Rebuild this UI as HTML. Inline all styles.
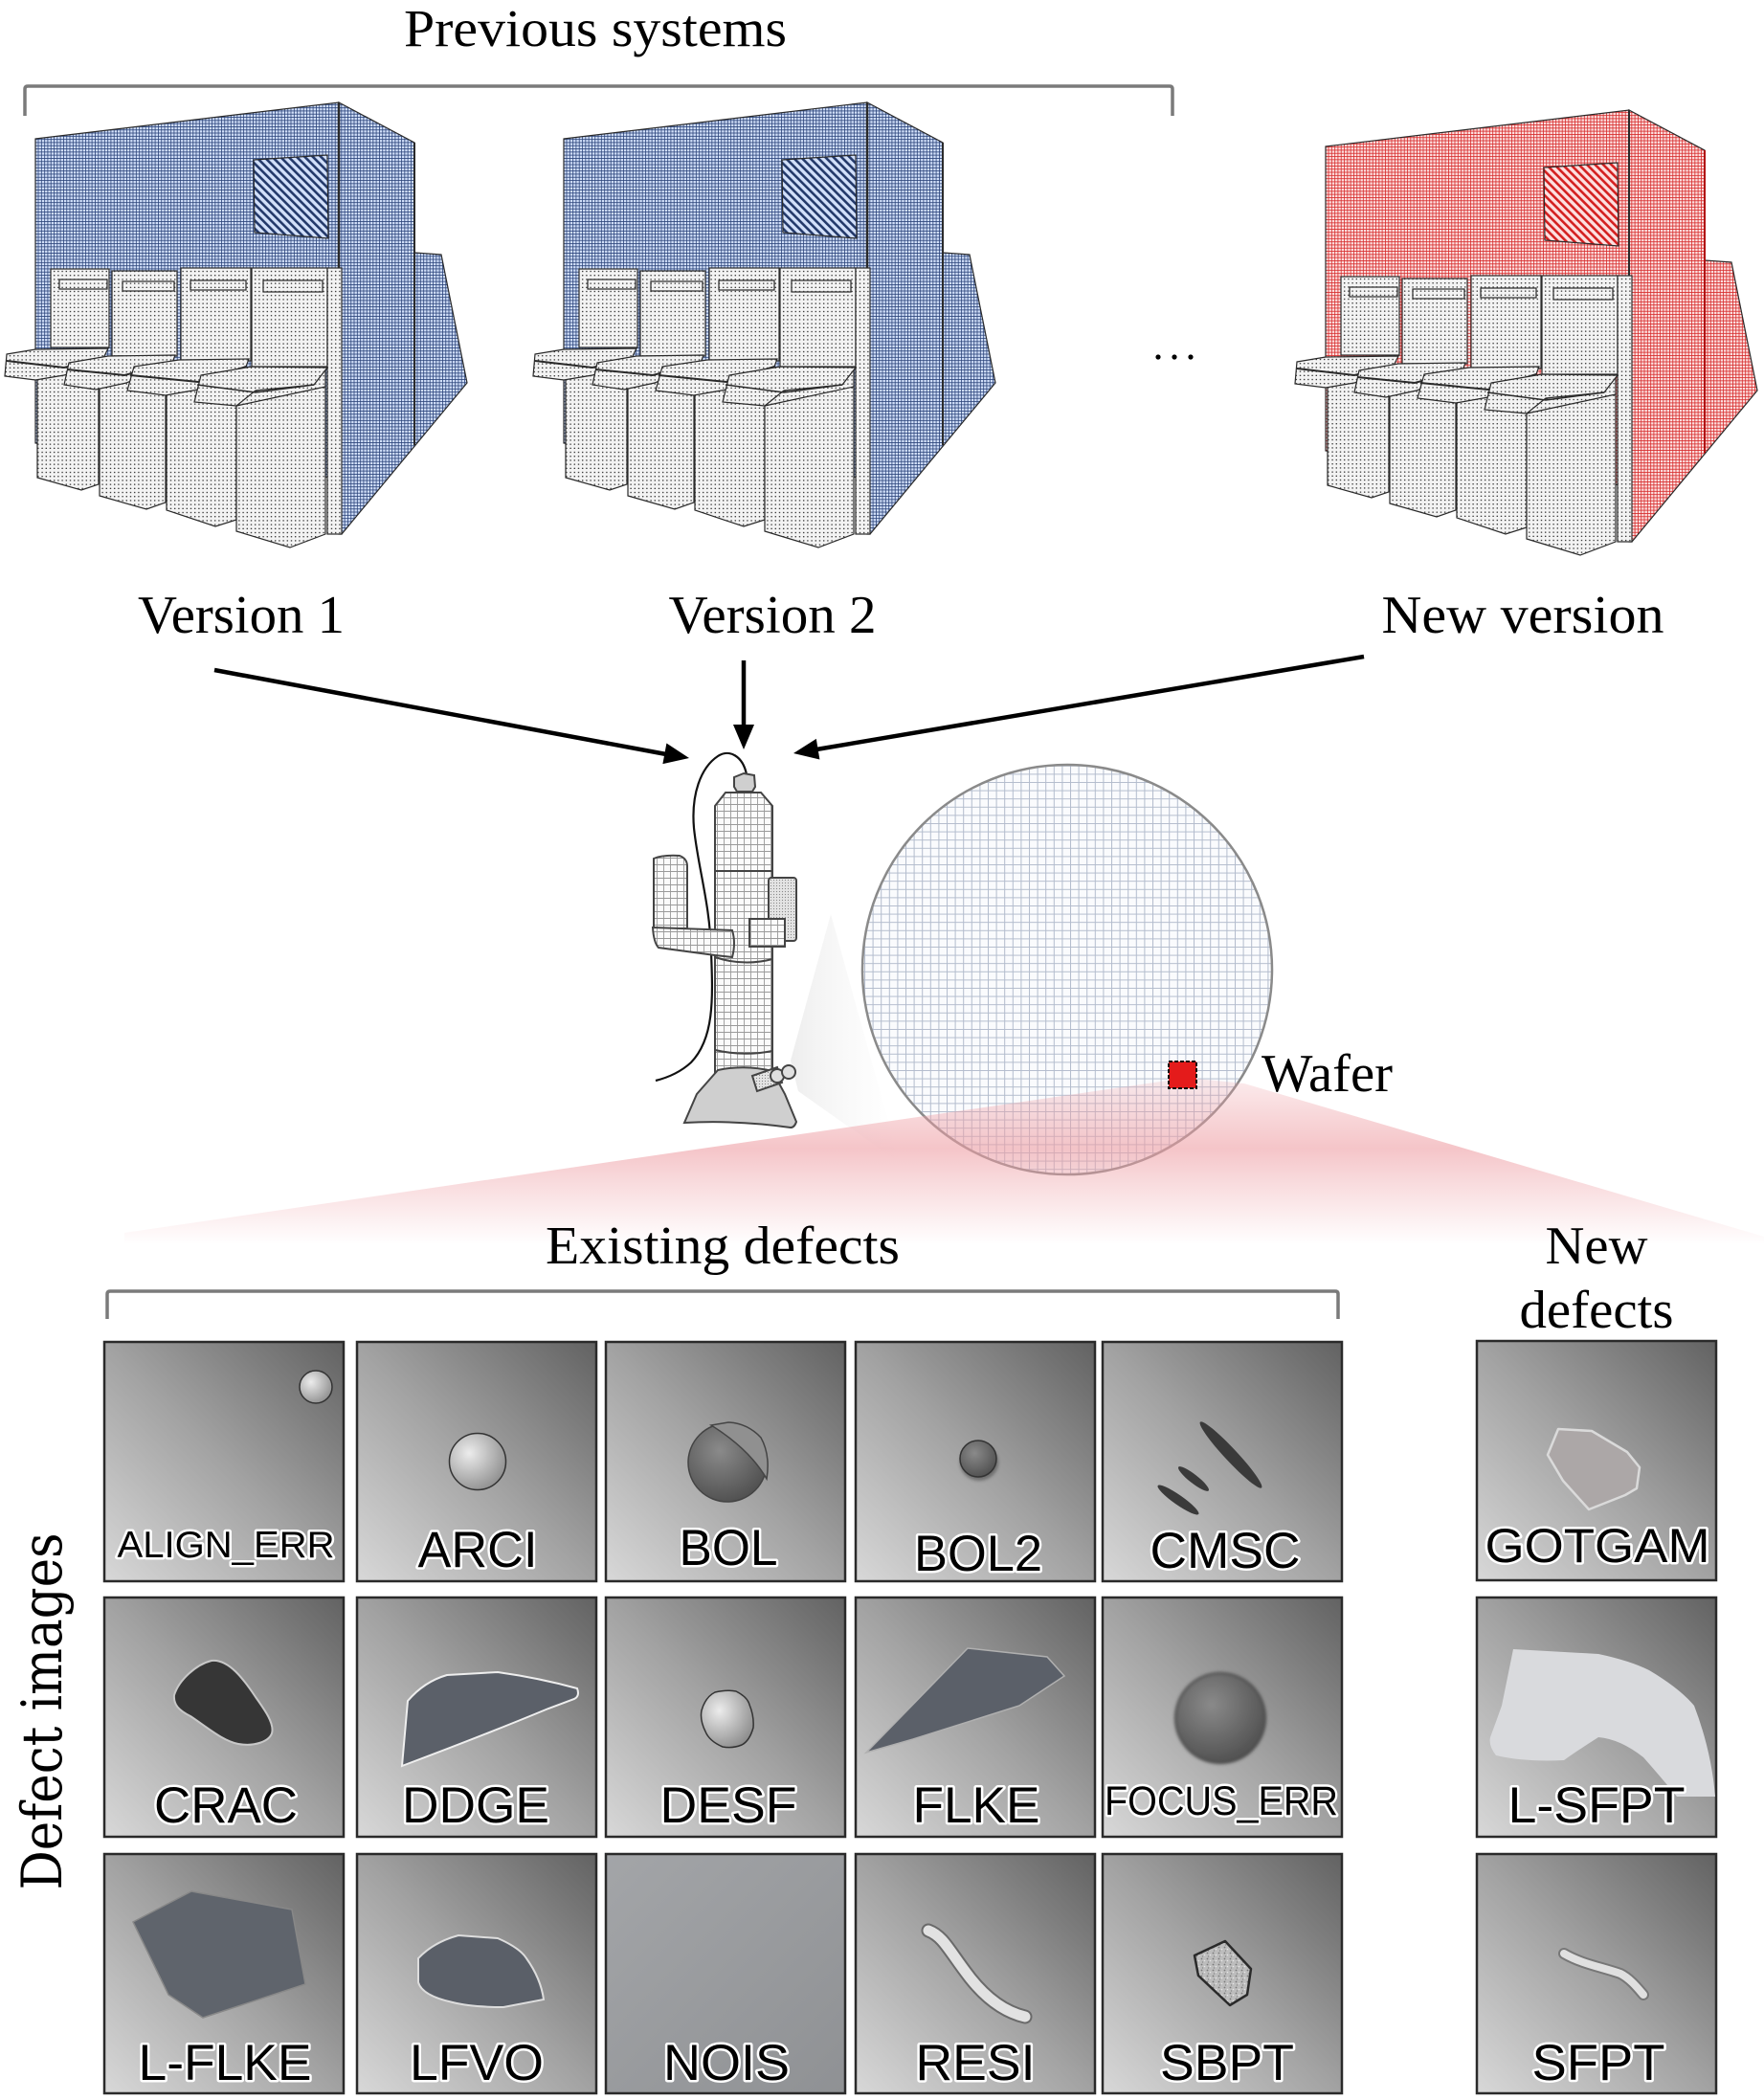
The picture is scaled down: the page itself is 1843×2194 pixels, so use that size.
<!DOCTYPE html>
<html><head><meta charset="utf-8"><style>
html,body{margin:0;padding:0;background:#fff;}
svg{display:block;}
.ser{font-family:"Liberation Serif","DejaVu Serif",serif;fill:#000;}
.lab{font-family:"Liberation Sans","DejaVu Sans",sans-serif;fill:#000;stroke:#fff;stroke-width:5;paint-order:stroke;stroke-linejoin:round;text-anchor:middle;}
</style></head><body>
<svg width="1843" height="2194" viewBox="0 0 1843 2194" xmlns="http://www.w3.org/2000/svg">
<defs>
<pattern id="gB" width="3.3" height="3.3" patternUnits="userSpaceOnUse"><rect width="3.3" height="3.3" fill="#d2e0fa"/><path d="M0 .4H3.3M.4 0V3.3" stroke="#2a4379" stroke-width="0.8"/></pattern>
<pattern id="gR" width="3.3" height="3.3" patternUnits="userSpaceOnUse"><rect width="3.3" height="3.3" fill="#fde0e0"/><path d="M0 .4H3.3M.4 0V3.3" stroke="#d62a2a" stroke-width="0.8"/></pattern>
<pattern id="dots" width="4.2" height="4.2" patternUnits="userSpaceOnUse"><rect width="4.2" height="4.2" fill="#f3f3f3"/><circle cx="2.1" cy="2.1" r="0.75" fill="#222"/></pattern>
<pattern id="hB" width="6" height="6" patternUnits="userSpaceOnUse" patternTransform="rotate(-45)"><rect width="6" height="6" fill="#d2e0fa"/><rect width="2.6" height="6" fill="#23396a"/></pattern>
<pattern id="hR" width="6" height="6" patternUnits="userSpaceOnUse" patternTransform="rotate(-45)"><rect width="6" height="6" fill="#fde0e0"/><rect width="2.6" height="6" fill="#d42020"/></pattern>
<pattern id="gW" width="8.6" height="8.6" patternUnits="userSpaceOnUse"><rect width="8.6" height="8.6" fill="#fafbfd"/><path d="M0 .5H8.6M.5 0V8.6" stroke="#b3bccd" stroke-width="1"/></pattern>
<pattern id="gM" width="7" height="7" patternUnits="userSpaceOnUse"><rect width="7" height="7" fill="#fbfbfb"/><path d="M0 .5H7M.5 0V7" stroke="#9a9a9a" stroke-width="0.9"/></pattern>
<pattern id="dM" width="3" height="3" patternUnits="userSpaceOnUse"><rect width="3" height="3" fill="#e4e4e4"/><circle cx="1.5" cy="1.5" r="0.6" fill="#888"/></pattern>
<pattern id="spk" width="6" height="6" patternUnits="userSpaceOnUse"><rect width="6" height="6" fill="#bdbdbd"/><circle cx="1.5" cy="1.5" r="0.9" fill="#7a7a7a"/><circle cx="4.5" cy="3.5" r="0.8" fill="#e6e6e6"/><circle cx="2.5" cy="5" r="0.7" fill="#8a8a8a"/></pattern>
<linearGradient id="tileG" x1="0" y1="1" x2="1" y2="0"><stop offset="0" stop-color="#d8d8d8"/><stop offset="0.5" stop-color="#a2a2a2"/><stop offset="1" stop-color="#626262"/></linearGradient>
<linearGradient id="noisG" x1="0" y1="0" x2="1" y2="1"><stop offset="0" stop-color="#a3a5a8"/><stop offset="1" stop-color="#8f9194"/></linearGradient>
<radialGradient id="ballL" cx="0.35" cy="0.35" r="0.75"><stop offset="0" stop-color="#ececec"/><stop offset="1" stop-color="#8a8a8a"/></radialGradient>
<radialGradient id="ballD" cx="0.4" cy="0.35" r="0.75"><stop offset="0" stop-color="#8a8a8a"/><stop offset="1" stop-color="#4a4a4a"/></radialGradient>
<linearGradient id="fanG" gradientUnits="userSpaceOnUse" x1="0" y1="1118" x2="0" y2="1300"><stop offset="0" stop-color="#ee9ea4" stop-opacity="0.15"/><stop offset="0.45" stop-color="#ee9ea4" stop-opacity="0.6"/><stop offset="0.62" stop-color="#ee9ea4" stop-opacity="0.4"/><stop offset="1" stop-color="#ee9ea4" stop-opacity="0"/></linearGradient>
<linearGradient id="coneG" gradientUnits="userSpaceOnUse" x1="826" y1="0" x2="940" y2="0"><stop offset="0" stop-color="#d8d8d8" stop-opacity="0.45"/><stop offset="1" stop-color="#f0f0f0" stop-opacity="0"/></linearGradient>
<filter id="bl1"><feGaussianBlur stdDeviation="1.5"/></filter>
</defs>

<!-- Top header -->
<text class="ser" x="622" y="48" font-size="55" text-anchor="middle" textLength="400" lengthAdjust="spacingAndGlyphs">Previous systems</text>
<path d="M26,121 V93 Q26,90 29,90 H1222 Q1225,90 1225,93 V121" fill="none" stroke="#7a7a7a" stroke-width="3.5"/>

<!-- Machine 1 -->
<g id="mach1" stroke="#2a2a2a" stroke-width="1.2">
<polygon points="37,145 354,107 354,500 37,463" fill="url(#gB)"/>
<polygon points="354,107 433,149 433,264 461,266 488,400 357,558 354,558" fill="url(#gB)"/>
<line x1="433" y1="149" x2="433" y2="465" stroke-width="2"/>
<line x1="354" y1="107" x2="354" y2="280" stroke-width="2.5"/>
<polygon points="265,167 342,162 343,249 266,243" fill="url(#hB)"/>
<rect x="53" y="281" width="61" height="82" fill="url(#dots)"/>
<rect x="117" y="283" width="68" height="89" fill="url(#dots)"/>
<rect x="189" y="280" width="73" height="97" fill="url(#dots)"/>
<rect x="263" y="280" width="79" height="103" fill="url(#dots)"/>
<rect x="62" y="292" width="50" height="10" fill="url(#dots)"/>
<rect x="128" y="294" width="54" height="10" fill="url(#dots)"/>
<rect x="199" y="293" width="58" height="10" fill="url(#dots)"/>
<rect x="275" y="293" width="62" height="12" fill="url(#dots)"/>
<rect x="342" y="280" width="15" height="278" fill="url(#dots)"/>
<polygon points="39,390 39,499 85,512 103,506 103,375" fill="url(#dots)"/>
<polygon points="7,370 37,365 113,364 107,376 67,392 37,397 5,393" fill="url(#dots)"/>
<polyline points="7,377 67,384 107,374" fill="none" stroke-width="2"/>
<polygon points="104,400 104,518 153,532 173,525 173,378" fill="url(#dots)"/>
<polygon points="72,379 113,372 183,371 180,379 132,400 100,407 67,402" fill="url(#dots)"/>
<polyline points="70,386 130,392 180,379" fill="none" stroke-width="2"/>
<polygon points="174,405 174,533 225,550 247,543 247,385" fill="url(#dots)"/>
<polygon points="140,383 187,376 260,375 257,383 207,407 173,413 133,408" fill="url(#dots)"/>
<polyline points="136,392 207,399 257,383" fill="none" stroke-width="2"/>
<polygon points="247,415 247,555 303,572 340,558 340,386" fill="url(#dots)"/>
<polygon points="210,392 263,383 342,384 328,402 267,408 247,424 203,420" fill="url(#dots)"/>
<polyline points="206,402 267,410 328,402" fill="none" stroke-width="1.5"/>
<line x1="247" y1="424" x2="340" y2="404" stroke-width="1.2"/>
</g>
<use href="#mach1" transform="translate(552,0)"/>

<!-- Machine 3 (red) -->
<g transform="translate(1348,8)" stroke="#2a2a2a" stroke-width="1.2">
<polygon points="37,145 354,107 354,500 37,463" fill="url(#gR)"/>
<polygon points="354,107 433,149 433,264 461,266 488,400 357,558 354,558" fill="url(#gR)"/>
<line x1="433" y1="149" x2="433" y2="465" stroke-width="2" stroke="#b01010"/>
<line x1="354" y1="107" x2="354" y2="280" stroke-width="2"/>
<polygon points="265,167 342,162 343,249 266,243" fill="url(#hR)"/>
<rect x="53" y="281" width="61" height="82" fill="url(#dots)"/>
<rect x="117" y="283" width="68" height="89" fill="url(#dots)"/>
<rect x="189" y="280" width="73" height="97" fill="url(#dots)"/>
<rect x="263" y="280" width="79" height="103" fill="url(#dots)"/>
<rect x="62" y="292" width="50" height="10" fill="url(#dots)"/>
<rect x="128" y="294" width="54" height="10" fill="url(#dots)"/>
<rect x="199" y="293" width="58" height="10" fill="url(#dots)"/>
<rect x="275" y="293" width="62" height="12" fill="url(#dots)"/>
<rect x="342" y="280" width="15" height="278" fill="url(#dots)"/>
<polygon points="39,390 39,499 85,512 103,506 103,375" fill="url(#dots)"/>
<polygon points="7,370 37,365 113,364 107,376 67,392 37,397 5,393" fill="url(#dots)"/>
<polyline points="7,377 67,384 107,374" fill="none" stroke-width="2"/>
<polygon points="104,400 104,518 153,532 173,525 173,378" fill="url(#dots)"/>
<polygon points="72,379 113,372 183,371 180,379 132,400 100,407 67,402" fill="url(#dots)"/>
<polyline points="70,386 130,392 180,379" fill="none" stroke-width="2"/>
<polygon points="174,405 174,533 225,550 247,543 247,385" fill="url(#dots)"/>
<polygon points="140,383 187,376 260,375 257,383 207,407 173,413 133,408" fill="url(#dots)"/>
<polyline points="136,392 207,399 257,383" fill="none" stroke-width="2"/>
<polygon points="247,415 247,555 303,572 340,558 340,386" fill="url(#dots)"/>
<polygon points="210,392 263,383 342,384 328,402 267,408 247,424 203,420" fill="url(#dots)"/>
<polyline points="206,402 267,410 328,402" fill="none" stroke-width="1.5"/>
<line x1="247" y1="424" x2="340" y2="404" stroke-width="1.2"/>
</g>

<!-- ellipsis -->
<circle cx="1210" cy="373" r="2.6" fill="#000"/><circle cx="1227" cy="373" r="2.6" fill="#000"/><circle cx="1244" cy="373" r="2.6" fill="#000"/>

<!-- version labels -->
<text class="ser" x="252" y="661" font-size="56" text-anchor="middle" textLength="216" lengthAdjust="spacingAndGlyphs">Version 1</text>
<text class="ser" x="807" y="661" font-size="56" text-anchor="middle" textLength="217" lengthAdjust="spacingAndGlyphs">Version 2</text>
<text class="ser" x="1591" y="661" font-size="56" text-anchor="middle" textLength="295" lengthAdjust="spacingAndGlyphs">New version</text>

<!-- arrows -->
<g stroke="#000" stroke-width="4.5" fill="#000">
<line x1="224" y1="700" x2="696" y2="788"/>
<polygon points="720,792 692.4,798.1 696.4,776.5" stroke="none"/>
<line x1="777" y1="690" x2="777" y2="760"/>
<polygon points="777,783 766,757 788,757" stroke="none"/>
<line x1="1425" y1="686" x2="853" y2="783"/>
<polygon points="829,787 852.8,771.9 856.4,793.5" stroke="none"/>
</g>

<!-- wafer -->
<circle cx="1115" cy="1013" r="214" fill="url(#gW)" stroke="#8a8a8a" stroke-width="2.5"/>
<!-- grey cone -->
<polygon points="826,1108 868,955 940,1215 834,1140" fill="url(#coneG)"/>
<!-- pink fan -->
<polygon points="1240,1126 1300,1132 1843,1292 1843,1305 130,1305 130,1288" fill="url(#fanG)"/>
<rect x="1221" y="1109" width="29" height="28" fill="#e41b1b" stroke="#111" stroke-width="2" stroke-dasharray="4,2"/>
<text class="ser" x="1318" y="1140" font-size="56" textLength="137" lengthAdjust="spacingAndGlyphs">Wafer</text>

<!-- microscope -->
<g stroke="#444" stroke-width="2">
<path d="M780,809 C776,790 762,782 750,790 C732,802 722,830 725,865 C729,905 742,945 743,995 C745,1045 746,1085 722,1110 C710,1121 697,1126 685,1129" fill="none" stroke="#111" stroke-width="2.2"/>
<path d="M747,842 L758,828 L795,828 L807,842 L807,1120 L747,1120 Z" fill="url(#gM)"/>
<path d="M747,910 H807 M747,1000 Q777,1010 807,1002 M747,1097 Q777,1104 807,1098" fill="none"/>
<path d="M683,970 L683,897 Q692,893 710,894 Q718,897 718,905 L718,970 Z" fill="url(#gM)"/>
<path d="M682,969 L765,972 Q769,985 765,1000 L747,998 L688,990 Q683,985 682,969 Z" fill="url(#gM)"/>
<rect x="803" y="917" width="29" height="66" rx="3" fill="url(#dM)"/>
<rect x="783" y="960" width="37" height="29" fill="url(#gM)"/>
<path d="M750,1118 Q778,1112 807,1119 L820,1143 L832,1172 Q830,1178 826,1178 Q770,1170 715,1173 L728,1143 Z" fill="#cfcfcf"/>
<polygon points="786,1124 812,1115 817,1131 791,1140" fill="url(#dM)"/>
<circle cx="812" cy="1124" r="7" fill="#e0e0e0"/>
<circle cx="824" cy="1120" r="7" fill="#e0e0e0"/>
<polygon points="767,822 767,812 777,808 788,810 789,822 786,827 770,827" fill="#cfcfcf"/>
</g>

<!-- Existing / New defects headers -->
<text class="ser" x="755" y="1320" font-size="56" text-anchor="middle" textLength="370" lengthAdjust="spacingAndGlyphs">Existing defects</text>
<path d="M112,1378 V1352 Q112,1349 115,1349 H1395 Q1398,1349 1398,1352 V1378" fill="none" stroke="#7a7a7a" stroke-width="3.5"/>
<text class="ser" x="1668" y="1320" font-size="56" text-anchor="middle" textLength="107" lengthAdjust="spacingAndGlyphs">New</text>
<text class="ser" x="1668" y="1387" font-size="56" text-anchor="middle" textLength="161" lengthAdjust="spacingAndGlyphs">defects</text>

<text x="0" y="0" font-family="'DejaVu Serif','Liberation Serif',serif" font-size="58" text-anchor="middle" textLength="373" lengthAdjust="spacingAndGlyphs" transform="translate(64,1788) rotate(-90)">Defect images</text>

<!-- Tiles row 1 -->
<g transform="translate(109,1402)">
<rect width="250" height="250" fill="url(#tileG)" stroke="#2a2a2a" stroke-width="2.5"/>
<circle cx="221" cy="47" r="17" fill="url(#ballL)" stroke="#333" stroke-width="1.5"/>
<text class="lab" x="127" y="225" font-size="39" textLength="227" lengthAdjust="spacingAndGlyphs">ALIGN_ERR</text>
</g>
<g transform="translate(373,1402)">
<rect width="250" height="250" fill="url(#tileG)" stroke="#2a2a2a" stroke-width="2.5"/>
<circle cx="126" cy="125" r="29.5" fill="url(#ballL)" stroke="#333" stroke-width="1.5"/>
<text class="lab" x="126" y="235" font-size="53" textLength="125" lengthAdjust="spacingAndGlyphs">ARCI</text>
</g>
<g transform="translate(633,1402)">
<rect width="250" height="250" fill="url(#tileG)" stroke="#2a2a2a" stroke-width="2.5"/>
<circle cx="127" cy="126" r="41" fill="url(#ballD)" stroke="#444" stroke-width="1.5"/>
<path d="M110,87 Q150,112 168,143 Q172,118 162,100 Q148,85 128,84 Z" fill="#909090" stroke="#444" stroke-width="1.5"/>
<text class="lab" x="128" y="233" font-size="53" textLength="103" lengthAdjust="spacingAndGlyphs">BOL</text>
</g>
<g transform="translate(894,1402)">
<rect width="250" height="250" fill="url(#tileG)" stroke="#2a2a2a" stroke-width="2.5"/>
<ellipse cx="129" cy="126" rx="20" ry="19" fill="#3a3a3a" opacity="0.5" filter="url(#bl1)"/>
<circle cx="128" cy="122" r="19" fill="url(#ballD)" stroke="#333" stroke-width="1.5"/>
<text class="lab" x="128" y="239" font-size="53" textLength="134" lengthAdjust="spacingAndGlyphs">BOL2</text>
</g>
<g transform="translate(1152,1402)">
<rect width="250" height="250" fill="url(#tileG)" stroke="#2a2a2a" stroke-width="2.5"/>
<ellipse cx="134" cy="118" rx="47" ry="6.5" transform="rotate(47 134 118)" fill="#3a3a3a"/>
<ellipse cx="95" cy="143" rx="20" ry="4.5" transform="rotate(38 95 143)" fill="#3a3a3a"/>
<ellipse cx="79" cy="165" rx="26" ry="5" transform="rotate(35 79 165)" fill="#3a3a3a"/>
<text class="lab" x="128" y="236" font-size="53" textLength="157" lengthAdjust="spacingAndGlyphs">CMSC</text>
</g>

<!-- Tiles row 2 -->
<g transform="translate(109,1669)">
<rect width="250" height="250" fill="url(#tileG)" stroke="#2a2a2a" stroke-width="2.5"/>
<path d="M112,66 C96,70 78,86 73,102 C72,112 78,118 90,124 C108,136 124,150 140,153 C158,156 172,150 175,142 C178,132 168,118 158,104 C146,86 130,64 112,66 Z" fill="#363636" stroke="#c8c8c8" stroke-width="2"/>
<text class="lab" x="127" y="235" font-size="53" textLength="150" lengthAdjust="spacingAndGlyphs">CRAC</text>
</g>
<g transform="translate(373,1669)">
<rect width="250" height="250" fill="url(#tileG)" stroke="#2a2a2a" stroke-width="2.5"/>
<path d="M47,176 L53,108 Q70,88 94,81 L147,78 Q190,84 230,95 Q233,103 227,106 L200,116 Q130,145 47,176 Z" fill="#5b6069" stroke="#eeeeee" stroke-width="2"/>
<text class="lab" x="124" y="235" font-size="53" textLength="154" lengthAdjust="spacingAndGlyphs">DDGE</text>
</g>
<g transform="translate(633,1669)">
<rect width="250" height="250" fill="url(#tileG)" stroke="#2a2a2a" stroke-width="2.5"/>
<path d="M114,99 Q126,96 136,98 Q148,104 150,112 Q155,124 154,136 Q150,150 142,154 Q132,158 122,156 Q108,150 104,140 Q98,128 100,118 Q104,104 114,99 Z" fill="url(#ballL)" stroke="#333" stroke-width="1.5"/>
<text class="lab" x="128" y="235" font-size="53" textLength="143" lengthAdjust="spacingAndGlyphs">DESF</text>
</g>
<g transform="translate(894,1669)">
<rect width="250" height="250" fill="url(#tileG)" stroke="#2a2a2a" stroke-width="2.5"/>
<polygon points="11,162 117,53 200,62 218,82 171,113 60,148" fill="#5b6069" stroke="#b0b0b0" stroke-width="1.5"/>
<text class="lab" x="126" y="235" font-size="53" textLength="133" lengthAdjust="spacingAndGlyphs">FLKE</text>
</g>
<g transform="translate(1152,1669)">
<rect width="250" height="250" fill="url(#tileG)" stroke="#2a2a2a" stroke-width="2.5"/>
<circle cx="123" cy="126" r="47" fill="url(#ballD)" stroke="#444" stroke-width="2" filter="url(#bl1)"/>
<text class="lab" x="124" y="227" font-size="43" textLength="244" lengthAdjust="spacingAndGlyphs">FOCUS_ERR</text>
</g>

<!-- Tiles row 3 -->
<g transform="translate(109,1937)">
<rect width="250" height="250" fill="url(#tileG)" stroke="#2a2a2a" stroke-width="2.5"/>
<polygon points="30,71 91,39 196,58 210,136 103,171 67,147" fill="#5f646c" stroke="#888" stroke-width="1.5"/>
<text class="lab" x="126" y="236" font-size="53" textLength="181" lengthAdjust="spacingAndGlyphs">L-FLKE</text>
</g>
<g transform="translate(373,1937)">
<rect width="250" height="250" fill="url(#tileG)" stroke="#2a2a2a" stroke-width="2.5"/>
<path d="M64,109 Q80,92 106,85 L147,88 Q170,98 177,109 Q192,130 195,152 L153,160 Q120,160 100,155 Q68,148 64,134 Z" fill="#5a5f68" stroke="#dddddd" stroke-width="2"/>
<text class="lab" x="125" y="236" font-size="53" textLength="140" lengthAdjust="spacingAndGlyphs">LFVO</text>
</g>
<g transform="translate(633,1937)">
<rect width="250" height="250" fill="url(#noisG)" stroke="#2a2a2a" stroke-width="2.5"/>
<text class="lab" x="126" y="236" font-size="53" textLength="132" lengthAdjust="spacingAndGlyphs">NOIS</text>
</g>
<g transform="translate(894,1937)">
<rect width="250" height="250" fill="url(#tileG)" stroke="#2a2a2a" stroke-width="2.5"/>
<path d="M76,80 C92,86 98,102 120,130 C140,155 160,166 177,170" fill="none" stroke="#6a6a6a" stroke-width="15" stroke-linecap="round"/>
<path d="M76,80 C92,86 98,102 120,130 C140,155 160,166 177,170" fill="none" stroke="#e2e2e2" stroke-width="11" stroke-linecap="round"/>
<text class="lab" x="125" y="236" font-size="53" textLength="125" lengthAdjust="spacingAndGlyphs">RESI</text>
</g>
<g transform="translate(1152,1937)">
<rect width="250" height="250" fill="url(#tileG)" stroke="#2a2a2a" stroke-width="2.5"/>
<polygon points="96,106 128,91 155,120 151,147 133,158 100,127" fill="url(#spk)" stroke="#2a2a2a" stroke-width="2.5" stroke-linejoin="round"/>
<text class="lab" x="130" y="236" font-size="53" textLength="140" lengthAdjust="spacingAndGlyphs">SBPT</text>
</g>

<!-- New defect tiles -->
<g transform="translate(1543,1401)">
<rect width="250" height="250" fill="url(#tileG)" stroke="#2a2a2a" stroke-width="2.5"/>
<polygon points="85,92 120,94 157,116 170,132 167,154 155,161 117,176 90,146 74,119" fill="#aca7a7" stroke="#dadada" stroke-width="2.5" stroke-linejoin="round"/>
<text class="lab" x="126" y="231" font-size="50" textLength="235" lengthAdjust="spacingAndGlyphs">GOTGAM</text>
</g>
<g transform="translate(1543,1669)">
<rect width="250" height="250" fill="url(#tileG)" stroke="#2a2a2a" stroke-width="2.5"/>
<path d="M38,54 L127,59 Q160,66 180,76 Q212,95 227,113 Q245,160 249,208 L209,208 Q190,185 174,167 Q150,148 127,146 Q105,160 91,170 Q50,172 20,165 Q12,155 14,146 Q20,130 26,113 Z" fill="#d9dadd"/>
<text class="lab" x="125" y="235" font-size="53" textLength="185" lengthAdjust="spacingAndGlyphs">L-SFPT</text>
</g>
<g transform="translate(1543,1937)">
<rect width="250" height="250" fill="url(#tileG)" stroke="#2a2a2a" stroke-width="2.5"/>
<path d="M91,104 C110,115 130,118 150,125 C160,130 168,140 174,147" fill="none" stroke="#777" stroke-width="12" stroke-linecap="round"/>
<path d="M91,104 C110,115 130,118 150,125 C160,130 168,140 174,147" fill="none" stroke="#e0e0e0" stroke-width="8" stroke-linecap="round"/>
<text class="lab" x="127" y="236" font-size="53" textLength="139" lengthAdjust="spacingAndGlyphs">SFPT</text>
</g>
</svg>
</body></html>
